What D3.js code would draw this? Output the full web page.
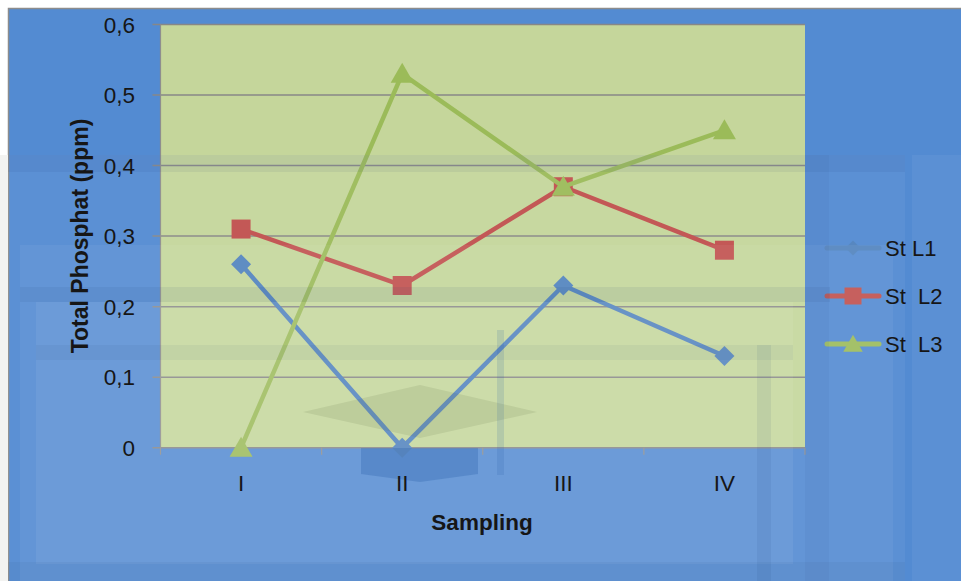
<!DOCTYPE html>
<html>
<head>
<meta charset="utf-8">
<script src="https://cdn.jsdelivr.net/npm/d3@7/dist/d3.min.js"></script>
<style>
  html, body { margin: 0; padding: 0; background: #ffffff; }
  svg text { font-family: "Liberation Sans", Arial, sans-serif; fill: #161616; }
</style>
</head>
<body>
<svg id="chart" width="961" height="581"></svg>
<script>
// Sampling rounds and total phosphate (ppm) per station
const categories = ["I", "II", "III", "IV"];
const stL1 = [0.26, 0.00, 0.23, 0.13];
const stL2 = [0.31, 0.23, 0.37, 0.28];
const stL3 = [0.00, 0.53, 0.37, 0.45];
const seriesNames = ["St L1", "St  L2", "St  L3"];
const yTicks = [0, 0.1, 0.2, 0.3, 0.4, 0.5, 0.6];
const yTickLabels = ["0", "0,1", "0,2", "0,3", "0,4", "0,5", "0,6"];

const series = [
  { name: seriesNames[0], values: stL1, color: "#4f81bd", marker: "diamond" },
  { name: seriesNames[1], values: stL2, color: "#c0504d", marker: "square" },
  { name: seriesNames[2], values: stL3, color: "#9bbb59", marker: "triangle" }
];

const svg = d3.select("#chart");

// chart frame
const plot = { left: 160.5, right: 805, top: 24.5, bottom: 447.7 };

const x = d3.scaleBand().domain(categories).range([plot.left, plot.right]).padding(0);
const cx = c => x(c) + x.bandwidth() / 2;
const y = d3.scaleLinear().domain([0, 0.6]).range([plot.bottom, plot.top]);

// outer chart background
svg.append("rect").attr("x", 8).attr("y", 8).attr("width", 953).attr("height", 573)
  .attr("fill", "#538bd2");
svg.append("path").attr("d", "M8.5,581 V8.5 H961").attr("fill", "none")
  .attr("stroke", "#8c8c8c").attr("stroke-width", 1.5);

// plot area
svg.append("rect")
  .attr("x", plot.left).attr("y", plot.top)
  .attr("width", plot.right - plot.left).attr("height", plot.bottom - plot.top)
  .attr("fill", "#c5d69b");

// gridlines
svg.append("g").selectAll("line").data(yTicks).join("line")
  .attr("x1", plot.left - 8).attr("x2", plot.right)
  .attr("y1", d => y(d)).attr("y2", d => y(d))
  .attr("stroke", "#878787").attr("stroke-width", 1.5);

// left border of plot area
svg.append("line").attr("x1", plot.left).attr("x2", plot.left)
  .attr("y1", plot.top).attr("y2", plot.bottom)
  .attr("stroke", "#8e8e8e").attr("stroke-width", 1.2);

// x axis ticks at category boundaries
const bounds = categories.map(c => x(c)).concat([plot.right]);
svg.append("g").selectAll("line").data(bounds).join("line")
  .attr("x1", d => d).attr("x2", d => d)
  .attr("y1", plot.bottom).attr("y2", plot.bottom + 7)
  .attr("stroke", "#8e8e8e").attr("stroke-width", 1.2);

// marker shapes
function markerPath(type, s) {
  if (type === "diamond") return `M0,${-s} L${s},0 L0,${s} L${-s},0 Z`;
  if (type === "square") return `M${-s},${-s} H${s} V${s} H${-s} Z`;
  return `M0,${-s * 1.1} L${s * 1.15},${s * 0.9} L${-s * 1.15},${s * 0.9} Z`;
}
const markerSize = { diamond: 10, square: 9.5, triangle: 10 };

// series lines and markers
const line = d3.line().x(d => cx(d.c)).y(d => y(d.v));
series.forEach(s => {
  const pts = s.values.map((v, i) => ({ c: categories[i], v }));
  const g = svg.append("g");
  g.append("path").datum(pts).attr("d", line)
    .attr("fill", "none").attr("stroke", s.color)
    .attr("stroke-width", 4.5).attr("stroke-linejoin", "round");
  g.selectAll("path.m").data(pts).join("path").attr("class", "m")
    .attr("transform", d => `translate(${cx(d.c)},${y(d.v)})`)
    .attr("d", markerPath(s.marker, markerSize[s.marker]))
    .attr("fill", s.color);
});

// legend keys
const legendY = [248, 296, 344];
series.forEach((s, i) => {
  const g = svg.append("g").attr("transform", `translate(0,${legendY[i]})`);
  g.append("line").attr("x1", 827).attr("x2", 879).attr("y1", 0).attr("y2", 0)
    .attr("stroke", s.color).attr("stroke-width", 5).attr("stroke-linecap", "round");
  g.append("path").attr("transform", "translate(853,0)")
    .attr("d", markerPath(s.marker, s.marker === "diamond" ? 7.5 : 8.5))
    .attr("fill", s.color);
});

// faint emblem printed across the page
const wm = svg.append("g").style("pointer-events", "none");
wm.append("rect").attr("x", 0).attr("y", 155).attr("width", 8).attr("height", 426).attr("fill", "#f3f3f1");
wm.append("rect").attr("x", 8).attr("y", 155).attr("width", 897).attr("height", 426).attr("fill", "#ffffff").attr("opacity", 0.05);
wm.append("rect").attr("x", 8).attr("y", 155).attr("width", 897).attr("height", 17).attr("fill", "#1e3c6e").attr("opacity", 0.07);
wm.append("rect").attr("x", 912).attr("y", 155).attr("width", 49).attr("height", 426).attr("fill", "#ffffff").attr("opacity", 0.05);
wm.append("rect").attr("x", 20).attr("y", 245).attr("width", 873).attr("height", 336).attr("fill", "#ffffff").attr("opacity", 0.05);
wm.append("rect").attr("x", 20).attr("y", 287).attr("width", 810).attr("height", 15).attr("fill", "#1e3c6e").attr("opacity", 0.08);
wm.append("rect").attr("x", 36).attr("y", 302).attr("width", 757).attr("height", 262).attr("fill", "#ffffff").attr("opacity", 0.06);
wm.append("rect").attr("x", 36).attr("y", 345).attr("width", 757).attr("height", 15).attr("fill", "#1e3c6e").attr("opacity", 0.06);
wm.append("rect").attr("x", 8).attr("y", 562).attr("width", 897).attr("height", 19).attr("fill", "#1e3c6e").attr("opacity", 0.06);
wm.append("rect").attr("x", 757).attr("y", 345).attr("width", 14).attr("height", 236).attr("fill", "#1e3c6e").attr("opacity", 0.08);
wm.append("rect").attr("x", 805).attr("y", 155).attr("width", 24).attr("height", 426).attr("fill", "#1e3c6e").attr("opacity", 0.05);
wm.append("path").attr("d", "M303,412 L420,385 L537,412 L420,438 Z").attr("fill", "#54603a").attr("opacity", 0.12);
wm.append("path").attr("d", "M361,448 H478 V474 L420,482 L361,474 Z").attr("fill", "#2a5fa8").attr("opacity", 0.3);
wm.append("rect").attr("x", 497).attr("y", 330).attr("width", 7).attr("height", 145).attr("fill", "#2a5fa8").attr("opacity", 0.15);

// y axis labels
svg.append("g").selectAll("text").data(yTicks).join("text")
  .attr("x", 135).attr("y", d => y(d))
  .attr("dy", "0.36em")
  .attr("text-anchor", "end")
  .style("font-size", "22.5px")
  .text((d, i) => yTickLabels[i]);

// x axis labels
svg.append("g").selectAll("text").data(categories).join("text")
  .attr("x", d => cx(d)).attr("y", 491)
  .attr("text-anchor", "middle")
  .style("font-size", "22.5px")
  .text(d => d);

// axis titles
svg.append("text")
  .attr("transform", "translate(88,236) rotate(-90)")
  .attr("text-anchor", "middle")
  .style("font-size", "23px").style("font-weight", "bold")
  .text("Total Phosphat (ppm)");
svg.append("text")
  .attr("x", 482).attr("y", 530)
  .attr("text-anchor", "middle")
  .style("font-size", "22.5px").style("font-weight", "bold")
  .text("Sampling");

// legend labels
svg.append("g").selectAll("text").data(series).join("text")
  .attr("x", 885).attr("y", (d, i) => legendY[i]).attr("dy", "0.36em")
  .style("font-size", "22px").style("white-space", "pre")
  .text(d => d.name);
</script>
</body>
</html>
